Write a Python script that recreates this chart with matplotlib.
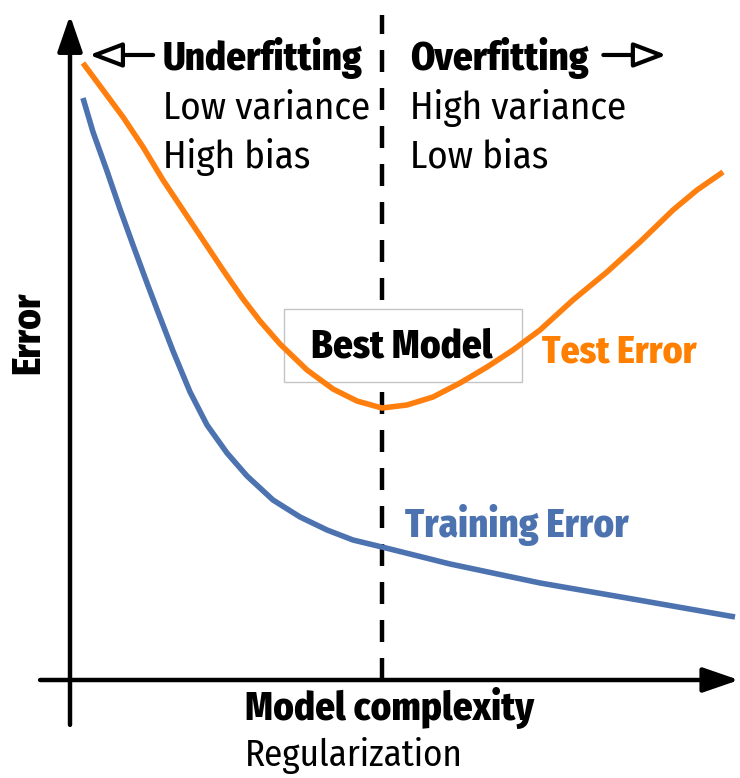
import matplotlib
matplotlib.use("Agg")
import matplotlib.pyplot as plt
from matplotlib.patches import Rectangle

plt.rcParams['font.family'] = ['Fira Sans Condensed', 'DejaVu Sans']

# ---------------- data (schematic error curves) ----------------
test_x = [0.195, 0.496, 0.797, 1.098, 1.398, 1.699, 2.000, 2.301, 2.602, 2.857,
          3.158, 3.564, 3.955, 4.316, 4.692, 5.068, 5.459, 5.865, 6.271, 6.662,
          7.068, 7.564, 8.075, 8.571, 9.068, 9.429, 9.820]
test_err = [9.348, 8.939, 8.530, 8.076, 7.576, 7.121, 6.667, 6.212, 5.773, 5.439,
            5.091, 4.697, 4.409, 4.227, 4.121, 4.167, 4.288, 4.500, 4.742, 5.000,
            5.303, 5.758, 6.182, 6.636, 7.121, 7.424, 7.697]

train_x = [0.195, 0.346, 0.556, 0.752, 0.947, 1.158, 1.323, 1.549, 1.805, 2.060,
           2.361, 2.662, 3.053, 3.459, 3.865, 4.256, 4.692, 5.714, 7.068, 8.376,
           10.0]
train_err = [8.818, 8.303, 7.712, 7.136, 6.591, 6.015, 5.576, 4.985, 4.364, 3.864,
             3.439, 3.091, 2.727, 2.470, 2.273, 2.121, 2.015, 1.758, 1.470, 1.242,
             0.955]

best_x = 4.692  # best model complexity

labels_top = ["Underfitting", "Overfitting"]
labels_left = ["Low variance", "High bias"]
labels_right = ["High variance", "Low bias"]

ORANGE = "#FF7F0E"
ORANGE_TXT = "#FF8000"
BLUE = "#4C72B0"

# ---------------- figure ----------------
fig = plt.figure(figsize=(7.4, 7.78), dpi=100)
ax = fig.add_axes([0, 0, 1, 1])
ax.set_xlim(-70 / 66.5, 670 / 66.5)
ax.set_ylim(-98 / 66, 680 / 66)
ax.axis("off")

axis_arrow = dict(arrowstyle="-|>,head_length=1.1,head_width=0.38",
                  lw=3.2, color="black", shrinkA=0, shrinkB=0,
                  mutation_scale=20)
ax.annotate("", xy=(10.06, 0), xytext=(-0.45, 0), arrowprops=axis_arrow,
            annotation_clip=False)
ax.annotate("", xy=(0, 10.07), xytext=(0, -0.68), arrowprops=axis_arrow,
            annotation_clip=False)

# dashed best-model line
ax.plot([best_x, best_x], [0, 10.08], color="black", lw=3.2,
        dashes=(4.95, 3.6), zorder=1)

# best model box (white, hides dashed line)
ax.add_patch(Rectangle((3.22, 4.52), 3.58, 1.10, facecolor="white",
                       edgecolor="#c4c4c4", lw=1.0, zorder=2))

# curves
ax.plot(test_x, test_err, color=ORANGE, lw=4, solid_capstyle="butt",
        solid_joinstyle="round", zorder=3)
ax.plot(train_x, train_err, color=BLUE, lw=4, solid_capstyle="butt",
        solid_joinstyle="round", zorder=3)

FS = 28
BW = 800
ax.text(4.99, 5.05, "Best Model", fontsize=FS, fontweight=BW,
        ha="center", va="center", zorder=4)
ax.text(7.10, 4.97, "Test Error", fontsize=27, fontweight=BW,
        color=ORANGE_TXT, ha="left", va="center", zorder=4)
ax.text(5.04, 2.35, "Training Error", fontsize=FS, fontweight=BW,
        color=BLUE, ha="left", va="center", zorder=4)

# top annotations
ax.text(1.40, 9.42, labels_top[0], fontsize=FS, fontweight=BW,
        ha="left", va="center")
ax.text(5.11, 9.42, labels_top[1], fontsize=FS, fontweight=BW,
        ha="left", va="center")
for i, (l, r) in enumerate(zip(labels_left, labels_right)):
    yy = 8.67 - i * 0.745
    ax.text(1.40, yy, l, fontsize=FS, ha="left", va="center")
    ax.text(5.11, yy, r, fontsize=FS, ha="left", va="center")

arrow_open = dict(arrowstyle="-|>,head_length=1.0,head_width=0.38",
                  lw=3.0, ec="black", fc="white", shrinkA=0, shrinkB=0,
                  mutation_scale=20)
ax.annotate("", xy=(0.29, 9.47), xytext=(1.25, 9.47), arrowprops=arrow_open)
ax.annotate("", xy=(8.97, 9.47), xytext=(8.02, 9.47), arrowprops=arrow_open)

# axis labels
ax.text(2.63, -0.42, "Model complexity", fontsize=FS, fontweight=BW,
        ha="left", va="center")
ax.text(2.63, -1.15, "Regularization", fontsize=26.5, ha="left", va="center")
ax.text(-0.63, 5.26, "Error", fontsize=FS, fontweight=BW,
        rotation=90, ha="center", va="center")

fig.savefig("out.png", dpi=100)
